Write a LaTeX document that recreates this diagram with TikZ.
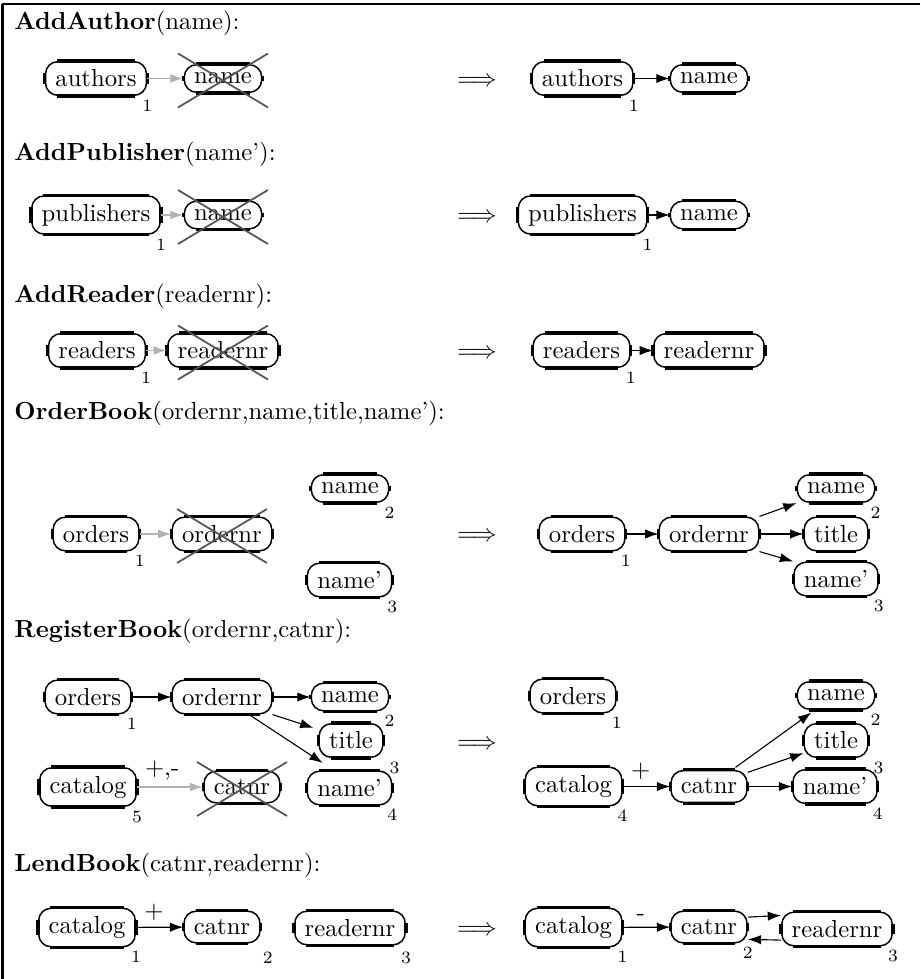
\documentclass[tikz,border=0pt]{standalone}
\usepackage{tikz}
\usetikzlibrary{calc,arrows.meta}
\tikzset{
    obj/.style={draw, rounded corners=5pt, line width=0.6pt, inner xsep=4pt, inner ysep=3.3pt,
        append after command={
            ([xshift=5pt]\tikzlastnode.north west) edge[line width=1.3pt] ([xshift=-5pt]\tikzlastnode.north east)
            ([xshift=5pt]\tikzlastnode.south west) edge[line width=1.3pt] ([xshift=-5pt]\tikzlastnode.south east)
            ([yshift=-5pt]\tikzlastnode.north west) edge[line width=1.3pt] ([yshift=5pt]\tikzlastnode.south west)
            ([yshift=-5pt]\tikzlastnode.north east) edge[line width=1.3pt] ([yshift=5pt]\tikzlastnode.south east)}},
    num/.style={font=\scriptsize, anchor=north, inner sep=1.3pt},
    sub/.style={label={[num]south east:#1}},
    fw/.style={-{Latex[length=5.4pt,width=3.8pt]}, line width=0.45pt},
    gone/.style={-{Latex[length=5.4pt,width=3.6pt]}, draw=black!30, line width=0.8pt},
    xline/.style={draw=black!67, line width=0.7pt},
    head/.style={anchor=base west, inner sep=0pt},
    lbl/.style={above, pos=0.38, inner sep=2.5pt},
}
\newcommand{\crossnode}[1]{%
  \draw[xline] ($(#1)+(-45,-25)$) -- ($(#1)+(45,29)$)
               ($(#1)+(-45,29)$) -- ($(#1)+(45,-25)$);}

\begin{document}
\begin{tikzpicture}[x=0.405pt, y=-0.405pt]
\useasboundingbox (0,0) rectangle (920,979);
\draw[line width=0.9pt] (920,4.3) -- (2.2,4.3);
\draw[line width=1.1pt] (2.4,4.3) -- (2.4,979);

% AddAuthor
\node[head] (hAuthor) at (14,30) {\textbf{AddAuthor}(name):};
\node[obj, sub=1] (authA) at (96,78.5) {authors};
\node[obj] (nameA) at (223,78.5) {name};
\draw[gone] (authA) -- (nameA);
\crossnode{nameA}
\node (impA) at (477,81.5) {$\Longrightarrow$};
\node[obj, sub=1] (authB) at (582.5,78.5) {authors};
\node[obj] (nameB) at (709,78.5) {name};
\draw[fw] (authB) -- (nameB);

% AddPublisher
\node[head] (hPub) at (14,161) {\textbf{AddPublisher}(name'):};
\node[obj, sub=1] (pubA) at (96,215) {publishers};
\node[obj] (nameC) at (223,215) {name};
\draw[gone] (pubA) -- (nameC);
\crossnode{nameC}
\node (impB) at (477,218) {$\Longrightarrow$};
\node[obj, sub=1] (pubB) at (582.5,215) {publishers};
\node[obj] (nameD) at (709,215) {name};
\draw[fw] (pubB) -- (nameD);

% AddReader
\node[head] (hRead) at (14,303) {\textbf{AddReader}(readernr):};
\node[obj, sub=1] (readA) at (97,350.5) {readers};
\node[obj] (rnrA) at (223,350.5) {readernr};
\draw[gone] (readA) -- (rnrA);
\crossnode{rnrA}
\node (impC) at (477,354) {$\Longrightarrow$};
\node[obj, sub=1] (readB) at (581.5,350.5) {readers};
\node[obj] (rnrB) at (709,350.5) {readernr};
\draw[fw] (readB) -- (rnrB);

% OrderBook
\node[head] (hOrder) at (14,419) {\textbf{OrderBook}(ordernr,name,title,name'):};
\node[obj, sub=1] (ordA) at (96,534) {orders};
\node[obj] (onrA) at (222,534) {ordernr};
\node[obj, sub=2] (nameE) at (350,488.5) {name};
\node[obj, sub=3] (nameqE) at (349.5,580) {name'};
\draw[gone] (ordA) -- (onrA);
\crossnode{onrA}
\node (impD) at (477,537) {$\Longrightarrow$};
\node[obj, sub=1] (ordB) at (582,534) {orders};
\node[obj] (onrB) at (709,534) {ordernr};
\node[obj, sub=2] (nameF) at (836,488.5) {name};
\node[obj] (titleF) at (836,534) {title};
\node[obj, sub=3] (nameqF) at (836,579) {name'};
\draw[fw] (ordB) -- (onrB);
\draw[fw] (onrB.north east) -- (nameF.south west);
\draw[fw] (onrB) -- (titleF);
\draw[fw] (onrB.south east) -- (nameqF.north west);

% RegisterBook
\node[head] (hReg) at (14,637) {\textbf{RegisterBook}(ordernr,catnr):};
\node[obj, sub=1] (ordC) at (88,697) {orders};
\node[obj] (onrC) at (222,697) {ordernr};
\node[obj, sub=2] (nameG) at (350,697) {name};
\node[obj, label={[num,xshift=4.4pt]south east:3}] (titleG) at (351,740.5) {title};
\node[obj, sub=4] (nameqG) at (349.5,788) {name'};
\node[obj, sub=5] (catG) at (88,787) {catalog};
\node[obj] (cnrG) at (242,787) {catnr};
\draw[fw] (ordC) -- (onrC);
\draw[fw] (onrC) -- (nameG);
\draw[fw] (onrC.south east) -- ([xshift=-2pt,yshift=-2pt]titleG.north west);
\draw[fw] ([xshift=11pt]onrC.south) -- ([xshift=6.5pt,yshift=3pt]nameqG.north west);
\draw[gone] (catG) -- node[lbl] (pmG) {+,-} (cnrG);
\crossnode{cnrG}
\node (impE) at (477,745) {$\Longrightarrow$};
\node[obj, sub=1] (ordH) at (573,696) {orders};
\node[obj, sub=4] (catH) at (573.5,786.5) {catalog};
\node[obj] (cnrH) at (709,786.5) {catnr};
\node[obj, sub=2] (nameH) at (836,695.5) {name};
\node[obj, label={[num,xshift=4pt]south east:3}] (titleH) at (836,740.5) {title};
\node[obj, sub=4] (nameqH) at (835,786.5) {name'};
\draw[fw] (catH) -- node[lbl] (plH) {+} (cnrH);
\draw[fw] ([xshift=-5pt,yshift=1pt]cnrH.north east) -- ([xshift=6pt,yshift=-1pt]nameH.south west);
\draw[fw] ([yshift=-1pt]cnrH.north east) -- ([yshift=2pt]titleH.south west);
\draw[fw] (cnrH) -- (nameqH);

% LendBook
\node[head] (hLend) at (14,871) {\textbf{LendBook}(catnr,readernr):};
\node[obj, sub=1] (catI) at (87,927.5) {catalog};
\node[obj, label={[num,xshift=2.8pt,yshift=-2pt]south east:2}] (cnrI) at (222,927) {catnr};
\node[obj, label={[num,yshift=-1pt]south east:3}] (rnrI) at (350,928) {readernr};
\draw[fw] (catI) -- node[lbl] (plI) {+} (cnrI);
\node (impF) at (477,931) {$\Longrightarrow$};
\node[obj, sub=1] (catJ) at (573.5,927.5) {catalog};
\node[obj, sub=2] (cnrJ) at (709,927) {catnr};
\node[obj, sub=3] (rnrJ) at (837,929) {readernr};
\draw[fw] (catJ) -- node[lbl] (mnJ) {-} (cnrJ);
\draw[fw] ([yshift=4pt]cnrJ.east) -- ([yshift=5.5pt]rnrJ.west);
\draw[fw] ([yshift=-4.5pt]rnrJ.west) -- ([yshift=-5pt]cnrJ.east);
\end{tikzpicture}
\end{document}
